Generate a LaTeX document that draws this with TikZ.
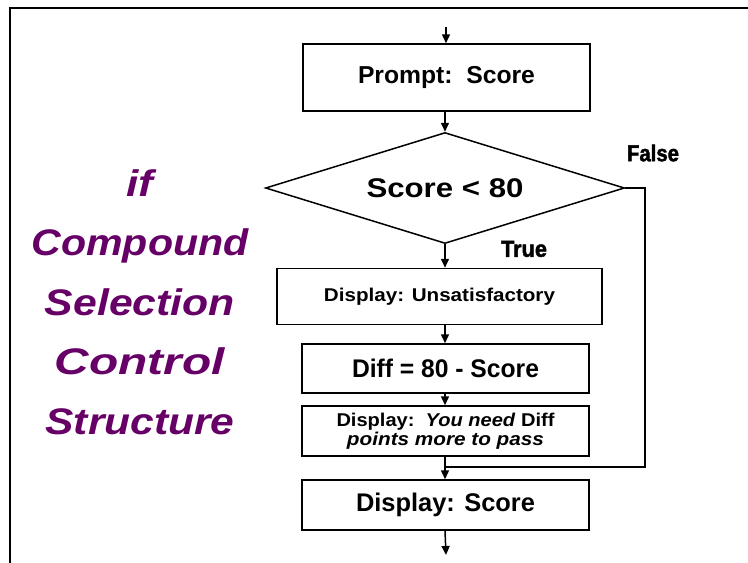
\documentclass[tikz,border=0pt]{standalone}
\usepackage{fontspec}
\usepackage{graphicx}
\setmainfont{Liberation Sans}
\newfontfamily\heavylabel[FakeBold=2]{Liberation Sans}
\usetikzlibrary{arrows.meta,shapes.geometric}
\definecolor{titlepurple}{HTML}{660066}
% stretch a piece of text to a given width, keeping its height
\newcommand{\fitw}[2]{\resizebox{#1}{\height}{#2}}
\begin{document}
\begin{tikzpicture}[x=1pt,y=-1pt,
  box/.style={draw,line width=1.5pt,inner sep=0pt,align=center,font=\bfseries},
  flow/.style={line width=1.5pt,-{Triangle[length=9pt,width=8pt]}},
  frameline/.style={line width=1.8pt},
  branch/.style={font=\heavylabel\bfseries\fontsize{23}{26}\selectfont}]
\useasboundingbox (0,0) rectangle (748,563);

% partial frame
\draw[frameline] (10,563) -- (10,8) -- (748,8);

% title
\node[text=titlepurple,align=center,font=\bfseries\itshape\fontsize{37}{59.5}\selectfont]
  (title) at (140,302)
  {\fitw{27pt}{if}\\\fitw{217pt}{Compound}\\\fitw{190pt}{Selection}\\
   \fitw{170pt}{Control}\\\fitw{189pt}{Structure}};

% flowchart nodes
\coordinate (start) at (446,27);
\node[box,minimum width=287,minimum height=67,font=\bfseries\fontsize{24.5}{27}\selectfont]
  (prompt) at (446.5,77.5) {\fitw{177pt}{Prompt:\ \ Score}};
\node[box,diamond,aspect=3.234,minimum width=359,minimum height=111,
      font=\bfseries\fontsize{27}{30}\selectfont]
  (test) at (445,188) {\fitw{157pt}{Score < 80}};
\node[box,minimum width=325,minimum height=56,font=\bfseries\fontsize{18.5}{20}\selectfont]
  (unsat) at (439.5,296.5) {\fitw{231pt}{Display: Unsatisfactory}};
\node[box,minimum width=287,minimum height=49,font=\bfseries\fontsize{25.5}{28}\selectfont]
  (diff) at (445.5,368.5) {\fitw{187pt}{Diff = 80 - Score}};
\node[box,minimum width=287,minimum height=50,font=\bfseries\fontsize{18.5}{18.5}\selectfont]
  (need) at (445.5,431) {\fitw{218pt}{Display:\ \ \textit{You need} Diff}\\
                          \fitw{197pt}{\textit{points more to pass}}};
\node[box,minimum width=287,minimum height=50,font=\bfseries\fontsize{25.5}{28}\selectfont]
  (show) at (445.5,505) {\fitw{179pt}{Display: Score}};
\coordinate (finish) at (446,555);

% branch labels
\node[branch] (flabel) at (653,153) {\fitw{52pt}{False}};
\node[branch] (tlabel) at (524,249) {\fitw{46pt}{True}};

% connectors
\draw[flow] (start) -- (prompt.north -| start);
\draw[flow] (prompt.south -| test.north) -- (test.north);
\draw[flow] (test.south) -- (test.south |- unsat.north);
\draw[flow] (test.south |- unsat.south) -- (test.south |- diff.north);
\draw[flow] (test.south |- diff.south) -- (test.south |- need.north);
\coordinate (join) at (446,467);
\draw[flow] (test.south |- need.south) -- (test.south |- show.north);
\draw[line width=1.5pt] (test.east) -- (645,188) -- (645,467) -- (join);
\draw[flow] (test.south |- show.south) -- (finish);
\end{tikzpicture}
\end{document}
